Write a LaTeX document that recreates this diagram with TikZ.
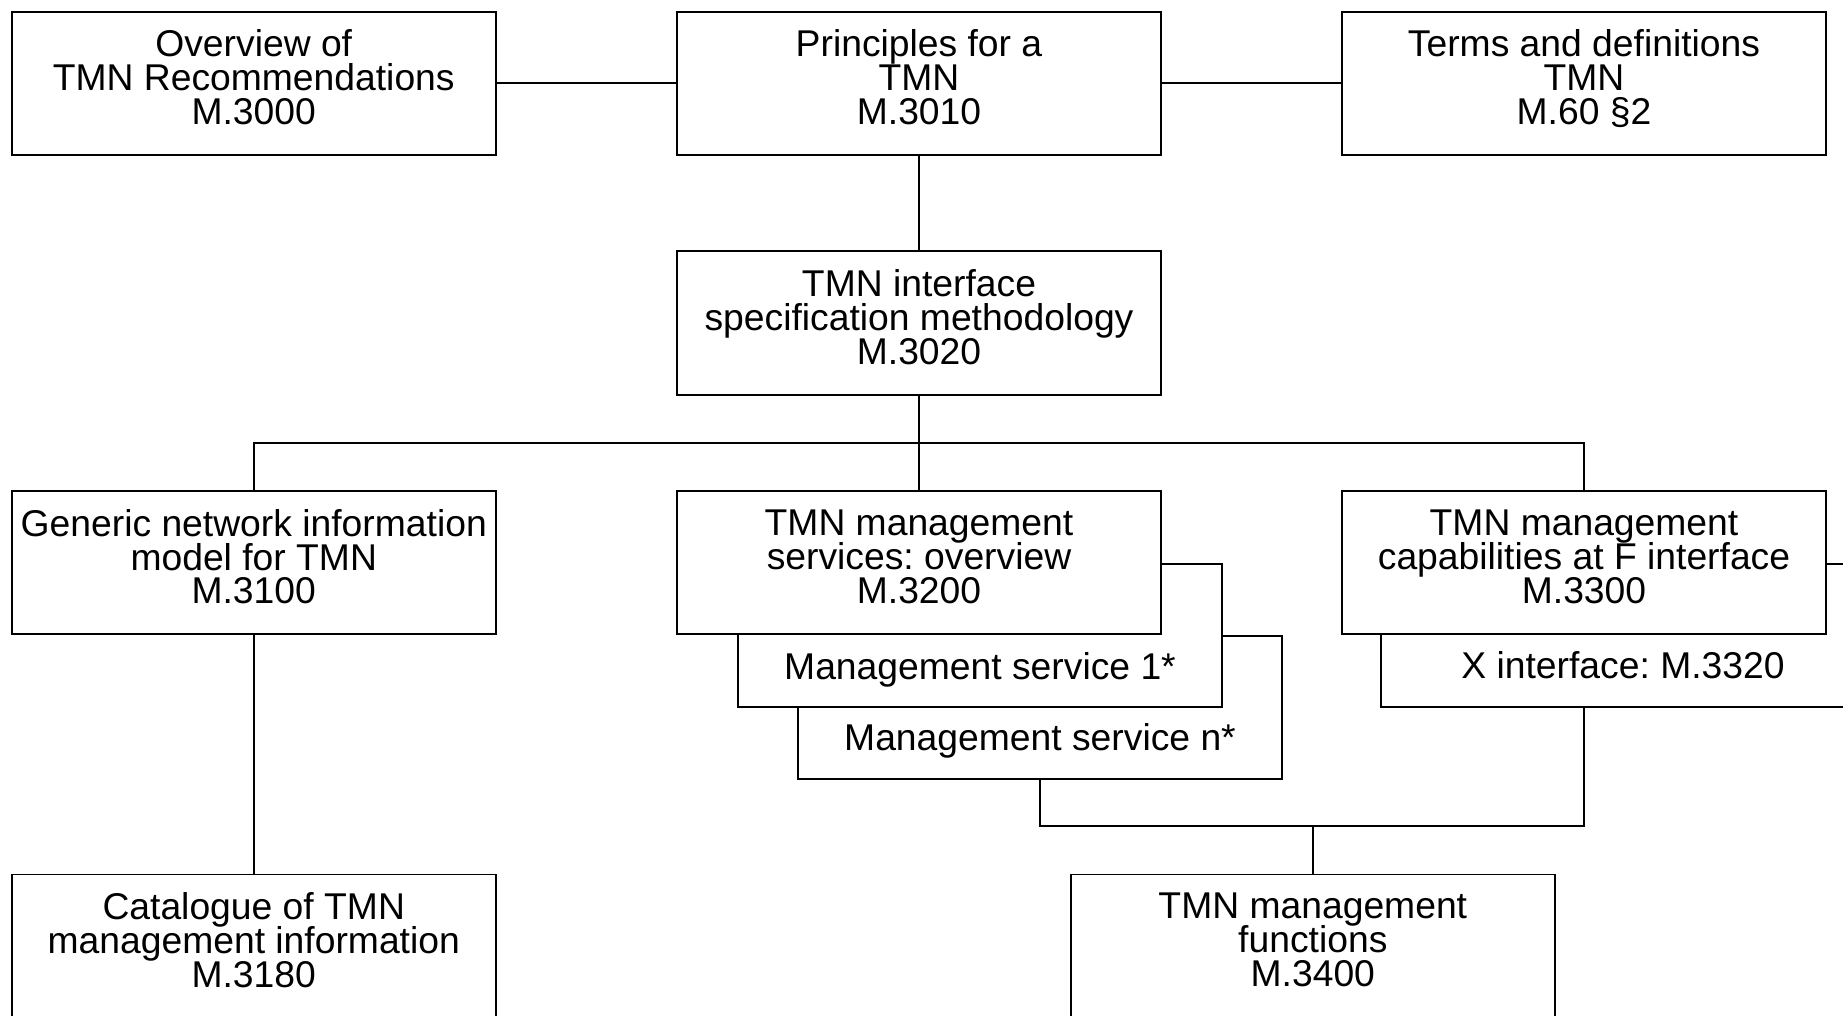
\documentclass[tikz,border=0pt]{standalone}
\usepackage{fontspec}
\setmainfont{Liberation Sans}
\newcommand{\boxfont}{\fontsize{10.6}{9.6}\selectfont}
\begin{document}
\lineskiplimit=-100pt
\frenchspacing
\begin{tikzpicture}[x=0.01cm,y=-0.01cm,
  line width=0.55pt,
  box/.style={draw,fill=white,minimum width=4.84cm,minimum height=1.43cm,inner sep=0pt},
  txt/.style={align=center,inner sep=0pt,font=\boxfont},
  strip/.style={anchor=base,inner sep=0pt,font=\boxfont}]
\fill[white] (0,0) rectangle (1843,1015);
\clip (0,0) rectangle (1843,1015);
\useasboundingbox (0,0) rectangle (1843,1015);

% top row
\node[box] (b1) at (253.75,83.25) {};
\node[box] (b2) at (919,83.25) {};
\node[box] (b3) at (1584,83.25) {};
% interface methodology
\node[box] (b4) at (919,323) {};
% third row with stacked service boxes
\node[box] (b5) at (253.75,562.8) {};
\node[box] (s2) at (1040,707.5) {};
\node[box] (s1) at (980,635.5) {};
\node[box] (b6) at (919,562.8) {};
\node[box] (sX) at (1623,635.5) {};
\node[box] (b7) at (1584,562.8) {};
% bottom row
\node[box] (b8) at (253.75,946) {};
\node[box] (b9) at (1312.8,946) {};

% box texts
\node[txt] (t1) at ([yshift=0.06cm]b1.center) {Overview of\\TMN Recommendations\\M.3000};
\node[txt] (t2) at ([yshift=0.06cm]b2.center) {Principles for a\\TMN\\M.3010};
\node[txt] (t3) at ([yshift=0.06cm]b3.center) {Terms and definitions\\TMN\\M.60 \smash{§}2};
\node[txt] (t4) at ([yshift=0.06cm]b4.center) {TMN interface\\specification methodology\\M.3020};
\node[txt] (t5) at ([yshift=0.06cm]b5.center) {Generic network information\\model for TMN\\M.3100};
\node[txt] (t6) at ([yshift=0.06cm]b6.center) {TMN management\\services: overview\\M.3200};
\node[txt] (t7) at ([yshift=0.06cm]b7.center) {TMN management\\capabilities at F interface\\M.3300};
\node[txt] (t8) at ([yshift=0.06cm]b8.center) {Catalogue of TMN\\management information\\M.3180};
\node[txt] (t9) at ([yshift=0.06cm]b9.center) {TMN management\\functions\\M.3400};
\node[strip] (ts1) at (980,679) {Management service 1*};
\node[strip] (ts2) at (1040,750) {Management service n*};
\node[strip] (tsX) at (1623,678) {X interface: M.3320};

% connectors
\coordinate (j1) at (919,443);
\coordinate (j2) at (1312.8,826.3);
\draw (b1.east) -- (b2.west);
\draw (b2.east) -- (b3.west);
\draw (b2.south) -- (b4.north);
\draw (b4.south) -- (b6.north);
\draw (b5.north) -- (b5.north |- j1) -- (b7.north |- j1) -- (b7.north);
\draw (b5.south) -- (b8.north);
\draw (s2.south) -- (s2.south |- j2) -- (j2 -| b7) -- (b7 |- sX.south);
\draw (j2) -- (b9.north);
\end{tikzpicture}
\end{document}
